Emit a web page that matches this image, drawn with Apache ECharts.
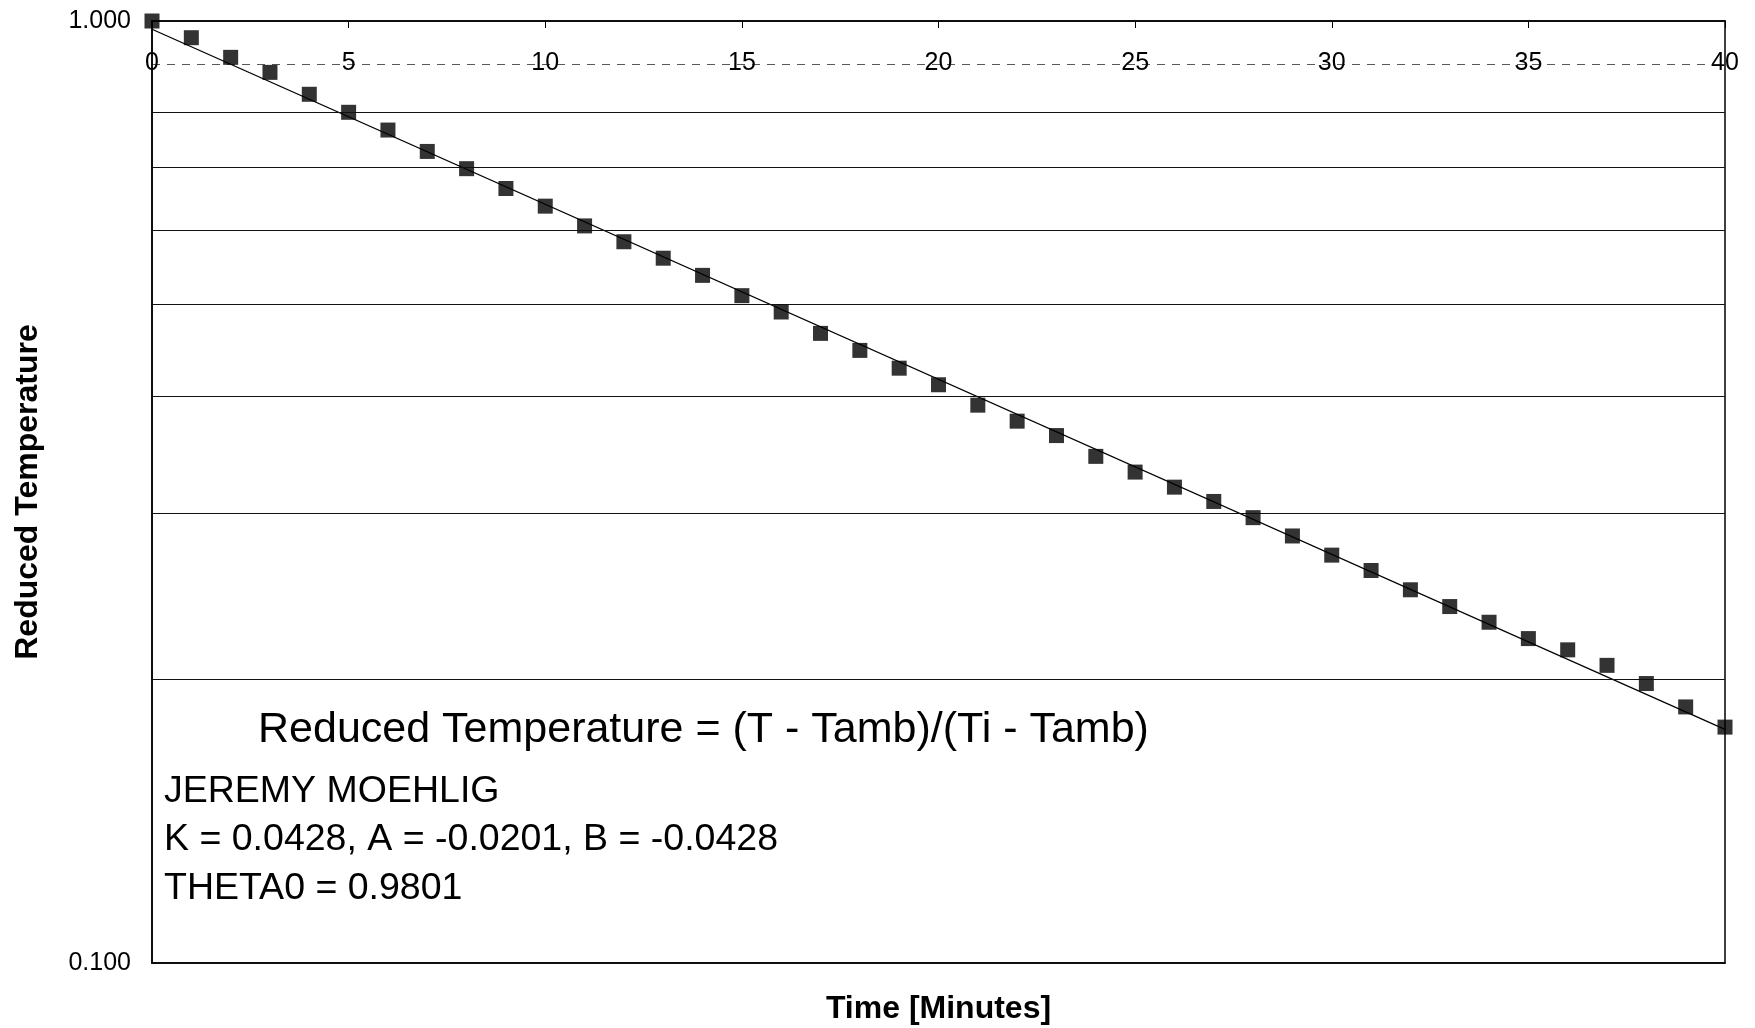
<!DOCTYPE html>
<html>
<head>
<meta charset="utf-8">
<script src="https://cdn.jsdelivr.net/npm/echarts@6/dist/echarts.min.js"></script>
<style>
html,body{margin:0;padding:0;background:#fff;}
#chart{width:1755px;height:1028px;}
</style>
</head>
<body>
<div id="chart"></div>
<script>
// ---- data ----
const minutes = [0,1,2,3,4,5,6,7,8,9,10,11,12,13,14,15,16,17,18,19,20,21,22,23,24,25,26,27,28,29,30,31,32,33,34,35,36,37,38,39,40];
const reducedTemp = [1.000,0.960,0.915,0.882,0.836,0.800,0.766,0.727,0.697,0.664,0.636,0.606,0.583,0.560,0.537,0.511,0.491,0.466,0.447,0.428,0.411,0.391,0.376,0.363,0.345,0.332,0.320,0.309,0.297,0.284,0.271,0.261,0.249,0.239,0.230,0.221,0.215,0.207,0.198,0.187,0.178];
const fitTime = [0, 40];
const fitValue = [0.9801, 0.1770];
const gridValues = [0.9, 0.8, 0.7, 0.6, 0.5, 0.4, 0.3, 0.2];
const xTicks = [0,5,10,15,20,25,30,35,40];
const yLabels = {"0.1":"0.100","1":"1.000"};
const annotTitle = "Reduced Temperature = (T - Tamb)/(Ti - Tamb)";
const annotLines = ["JEREMY MOEHLIG","K = 0.0428, A = -0.0201, B = -0.0428","THETA0 = 0.9801"];

const FONT = '"Liberation Sans", Arial, sans-serif';
const chart = echarts.init(document.getElementById('chart'));

const option = {
  backgroundColor: '#fff',
  animation: false,
  grid: {left: 152, right: 30, top: 21, bottom: 65, show: true, borderColor: '#000', borderWidth: 1.5,
    containLabel: false, outerBoundsMode: 'none'},
  xAxis: [{
    type: 'value', position: 'top', min: 0, max: 40, interval: 5,
    axisLine: {show: true, lineStyle: {color: '#000', width: 1.5}},
    axisTick: {show: true, inside: true, length: 7, lineStyle: {color: '#000'}},
    axisLabel: {inside: true, margin: 30, color: '#000', fontFamily: FONT, fontSize: 25,
      formatter: v => xTicks.includes(v) ? String(v) : ''},
    splitLine: {show: false}
  }, {
    type: 'value', position: 'bottom', min: 0, max: 40,
    axisLine: {show: true, lineStyle: {color: '#000', width: 1.5}},
    axisTick: {show: false}, axisLabel: {show: false}, splitLine: {show: false},
    name: 'Time [Minutes]', nameLocation: 'middle', nameGap: 30,
    nameTextStyle: {color: '#000', fontFamily: FONT, fontSize: 32, fontWeight: 'bold'}
  }],
  yAxis: {
    type: 'log', logBase: 10, min: 0.1, max: 1,
    axisLine: {show: true, lineStyle: {color: '#000', width: 1.5}},
    axisTick: {show: false},
    axisLabel: {color: '#000', fontFamily: FONT, fontSize: 25, margin: 21,
      formatter: v => yLabels[String(+v.toPrecision(3))] || v.toFixed(3)},
    splitLine: {show: false},
    name: 'Reduced Temperature', nameLocation: 'middle', nameGap: 108, nameRotate: 90,
    nameTextStyle: {color: '#000', fontFamily: FONT, fontSize: 32, fontWeight: 'bold'}
  },
  series: [{
    type: 'line', xAxisIndex: 0,
    data: fitTime.map((t, i) => [t, fitValue[i]]),
    symbol: 'none', lineStyle: {color: '#000', width: 1.3}, z: 3,
    markLine: {
      silent: true, symbol: 'none', label: {show: false},
      data: gridValues.map(v => ({yAxis: v,
        lineStyle: {color: '#111', width: 1.2, type: v === 0.9 ? [8, 7] : 'solid', opacity: v === 0.9 ? 0.7 : 1}}))
    }
  }, {
    type: 'scatter', xAxisIndex: 0,
    data: minutes.map((t, i) => [t, reducedTemp[i]]),
    symbol: 'rect', symbolSize: 15, itemStyle: {color: '#000'}, z: 4, clip: false
  }],
  graphic: [
    {type: 'text', left: 258, top: 733 - 24, style: {text: annotTitle, fill: '#000', font: '43px ' + FONT}},
    ...annotLines.map((s, i) => ({type: 'text', left: 164, top: [794, 842, 891][i] - 21,
      style: {text: s, fill: '#000', font: '37.5px ' + FONT}}))
  ]
};
chart.setOption(option);
</script>
</body>
</html>
